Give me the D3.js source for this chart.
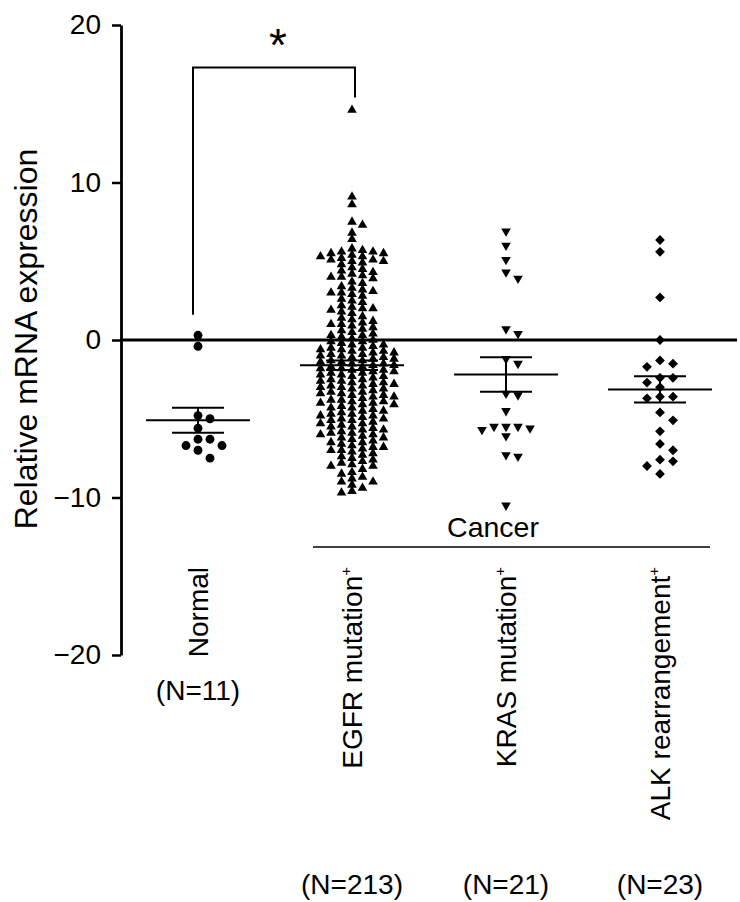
<!DOCTYPE html>
<html>
<head>
<meta charset="utf-8">
<script src="https://cdn.jsdelivr.net/npm/d3@7"></script>
<style>
  body { margin: 0; background: #fff; }
  text { font-family: "Liberation Sans", Arial, sans-serif; fill: #000; }
</style>
</head>
<body>
<svg id="chart" width="740" height="902"></svg>
<script>
// groups and labels
var groups = ['Normal', 'EGFR', 'KRAS', 'ALK'];
var groupLabels = ['Normal', 'EGFR mutation', 'KRAS mutation', 'ALK rearrangement'];
var groupSup = ['', '+', '+', '+'];
var groupN = ['(N=11)', '(N=213)', '(N=21)', '(N=23)'];
var yTicks = [-20, -10, 0, 10, 20];

// values
var normalVals = [0.3, -0.4, -4.8, -5.0, -5.6, -6.3, -6.7, -6.7, -6.3, -7.0, -7.5];
var egfrVals = [14.6, 9.1, 8.6, 7.5, 7.3, 6.8, 6.4,
  5.8, 5.7, 5.6, 5.6, 5.5, 5.5, 5.4, 5.3, 5.3, 5.2, 5.1, 5.1, 5.0, 5.0,
  4.9, 4.8, 4.6, 4.5, 4.4, 4.3, 4.2, 4.1, 4.0, 4.0,
  3.9, 3.7, 3.6, 3.4, 3.3, 3.2, 3.1, 3.0, 3.0,
  2.9, 2.8, 2.6, 2.5, 2.4, 2.2, 2.1, 2.0, 2.0,
  1.9, 1.8, 1.7, 1.5, 1.4, 1.3, 1.2, 1.1, 1.0, 1.0,
  0.9, 0.8, 0.7, 0.6, 0.5, 0.4, 0.3, 0.3, 0.2, 0.1, 0.0,
  -0.1, -0.1, -0.2, -0.3, -0.3, -0.4, -0.5, -0.5, -0.6, -0.6, -0.7, -0.7, -0.8, -0.8, -0.9, -0.9, -1.0, -1.0,
  -1.1, -1.1, -1.2, -1.2, -1.3, -1.3, -1.4, -1.4, -1.5, -1.5, -1.6, -1.6, -1.7, -1.7, -1.8, -1.8, -1.9, -1.9, -2.0,
  -2.0, -2.1, -2.1, -2.2, -2.2, -2.3, -2.3, -2.4, -2.5, -2.5, -2.6, -2.6, -2.7, -2.7, -2.8, -2.8, -2.9, -2.9, -3.0,
  -3.0, -3.1, -3.1, -3.2, -3.3, -3.3, -3.4, -3.4, -3.5, -3.5, -3.6, -3.6, -3.7, -3.8, -3.8, -3.9, -3.9, -4.0,
  -4.0, -4.1, -4.1, -4.2, -4.3, -4.3, -4.4, -4.5, -4.5, -4.6, -4.7, -4.7, -4.8, -4.8, -4.9, -5.0, -5.0,
  -5.1, -5.1, -5.2, -5.3, -5.3, -5.4, -5.5, -5.5, -5.6, -5.7, -5.7, -5.8, -5.9, -5.9, -6.0, -6.0,
  -6.1, -6.2, -6.2, -6.3, -6.4, -6.5, -6.5, -6.6, -6.7, -6.8, -6.8, -6.9, -7.0, -7.0,
  -7.1, -7.2, -7.3, -7.4, -7.5, -7.6, -7.7, -7.8, -7.9, -8.0, -8.0,
  -8.2, -8.4, -8.5, -8.7, -8.8, -9.0, -9.0,
  -9.2, -9.4, -9.6, -9.7];
var krasVals = [6.9, 6.0, 5.1, 4.3, 3.9, 0.7, 0.4, -1.2, -1.5, -3.4, -3.5, -4.5,
  -5.5, -5.6, -5.7, -5.5, -6.1, -7.3, -7.4, -10.5, -5.5];
var alkVals = [6.35, 5.6, 2.7, 0.0, -1.3, -1.5, -1.7, -2.4, -2.4, -2.7, -3.0, -3.6, -3.7, -3.6,
  -4.6, -5.1, -5.8, -6.6, -7.0, -7.7, -7.6, -8.0, -8.5];

var seriesVals = [normalVals, egfrVals, krasVals, alkVals];

var svg = d3.select('#chart');
var y = d3.scaleLinear().domain([-20, 20]).range([655, 25]);
var x = d3.scalePoint().domain(groups).range([121, 737]).padding(0.5);

// simple swarm: spread points that sit close in y onto side columns
function swarm(vals, step, gap) {
    var placed = [];
    return vals.slice().sort(function(a, b) { return b - a; }).map(function(v) {
        var py = y(v), off = 0;
        for (var i = 0; i < 60; i++) {
            off = (i % 2 ? 1 : -1) * Math.ceil(i / 2) * step;
            var hit = placed.some(function(p) { return Math.abs(p.x - off) < step * 0.9 && Math.abs(p.y - py) < gap; });
            if (!hit) break;
        }
        placed.push({x: off, y: py});
        return {v: v, dx: off};
    });
}

var symbols = [
    d3.symbol().type(d3.symbolCircle).size(62),
    d3.symbol().type(d3.symbolTriangle).size(40),
    d3.symbol().type(d3.symbolTriangle).size(40),
    d3.symbol().type(d3.symbolSquare).size(48)
];
var rot = [0, 0, 180, 45];
var steps = [12, 10.5, 12, 13];
var gaps = [9, 6, 9, 9];

// zero line
svg.append('line')
    .attr('x1', 121).attr('x2', 737)
    .attr('y1', y(0)).attr('y2', y(0))
    .attr('stroke', '#000').attr('stroke-width', 3);

groups.forEach(function(g, gi) {
    var cx = x(g);
    var pts = swarm(seriesVals[gi], steps[gi], gaps[gi]);
    svg.append('g').selectAll('path').data(pts).enter().append('path')
        .attr('d', symbols[gi])
        .attr('transform', function(d) { return 'translate(' + (cx + d.dx) + ',' + y(d.v) + ') rotate(' + rot[gi] + ')'; })
        .attr('fill', '#000');

    var vals = seriesVals[gi];
    var m = d3.mean(vals);
    var sem = d3.deviation(vals) / Math.sqrt(vals.length);
    var eg = svg.append('g').attr('stroke', '#000').attr('stroke-width', 2);
    eg.append('line').attr('x1', cx - 52).attr('x2', cx + 52).attr('y1', y(m)).attr('y2', y(m));
    eg.append('line').attr('x1', cx - 26).attr('x2', cx + 26).attr('y1', y(m + sem)).attr('y2', y(m + sem));
    eg.append('line').attr('x1', cx - 26).attr('x2', cx + 26).attr('y1', y(m - sem)).attr('y2', y(m - sem));
    eg.append('line').attr('x1', cx).attr('x2', cx).attr('y1', y(m + sem)).attr('y2', y(m - sem));
});

// y axis
var yAxis = svg.append('g')
    .attr('transform', 'translate(121,0)')
    .call(d3.axisLeft(y).tickValues(yTicks).tickSize(9).tickSizeOuter(0).tickPadding(11));
yAxis.select('.domain').attr('stroke-width', 2.8);
yAxis.selectAll('.tick line').attr('stroke-width', 2.5);
yAxis.selectAll('.tick text').attr('font-size', 28)
    .style('font-family', '"Liberation Sans", Arial, sans-serif');

svg.append('text')
    .attr('transform', 'translate(37,' + (y(0) - 1) + ') rotate(-90)')
    .attr('text-anchor', 'middle')
    .attr('font-size', 32)
    .text('Relative mRNA expression');

// significance bracket
var bx1 = x('Normal') - 5, bx2 = x('EGFR') + 3;
svg.append('path')
    .attr('d', 'M' + bx1 + ',' + y(1.6) + 'V' + y(17.3) + 'H' + bx2 + 'V' + y(15.4))
    .attr('fill', 'none').attr('stroke', '#000').attr('stroke-width', 2);
svg.append('text')
    .attr('x', (bx1 + bx2) / 2 + 4).attr('y', 61)
    .attr('text-anchor', 'middle')
    .attr('font-size', 46)
    .text('*');

// cancer grouping
svg.append('line')
    .attr('x1', 313).attr('x2', 710).attr('y1', 547).attr('y2', 547)
    .attr('stroke', '#000').attr('stroke-width', 1.5);
svg.append('text')
    .attr('x', 493).attr('y', 537)
    .attr('text-anchor', 'middle')
    .attr('font-size', 28.5)
    .text('Cancer');

// category labels
groups.forEach(function(g, gi) {
    var t = svg.append('text')
        .attr('transform', 'translate(' + (x(g) + 10) + ',567) rotate(-90)')
        .attr('text-anchor', 'end')
        .attr('font-size', 28);
    t.append('tspan').text(groupLabels[gi]);
    if (groupSup[gi]) {
        t.append('tspan').attr('font-size', 15).attr('dy', -11).text(groupSup[gi]);
    }
    svg.append('text')
        .attr('x', x(g)).attr('y', gi === 0 ? 700 : 894)
        .attr('text-anchor', 'middle')
        .attr('font-size', 28)
        .text(groupN[gi]);
});
</script>
</body>
</html>
